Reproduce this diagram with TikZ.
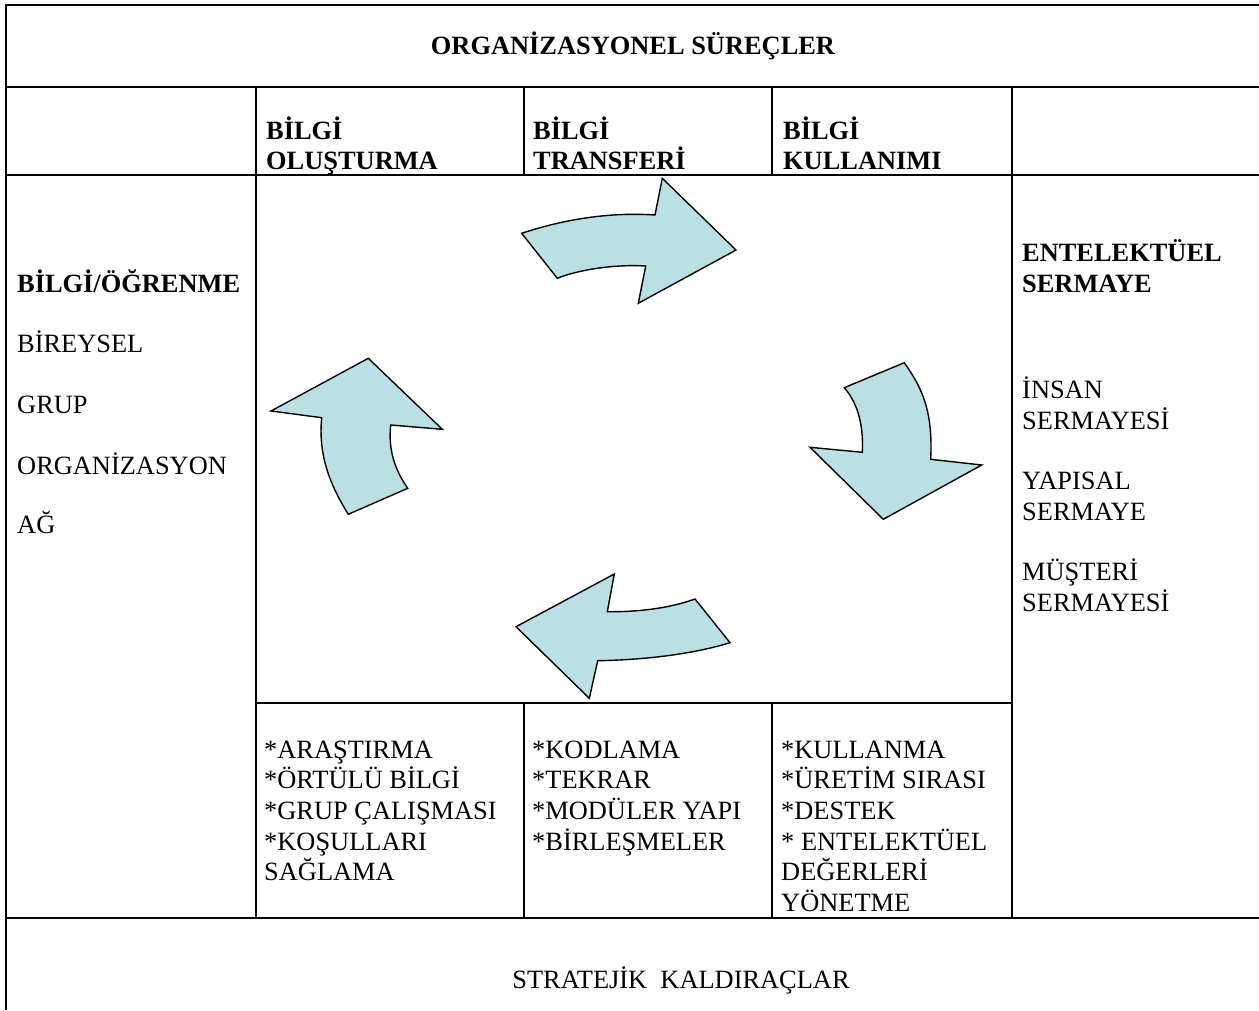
\documentclass[tikz,border=0pt]{standalone}
\usepackage{fontspec}
\setmainfont{Liberation Serif}
\definecolor{arrowfill}{HTML}{BBE0E3}
\tikzset{
  grid/.style={line width=2.6pt},
  thin grid/.style={line width=2pt},
  txt/.style={anchor=base west, inner sep=0pt, font=\fontsize{26.4}{30.6}\selectfont},
  btxt/.style={txt, font=\fontsize{26.4}{30.6}\selectfont\bfseries},
  ctxt/.style={txt, anchor=base},
  cbtxt/.style={btxt, anchor=base},
  bentarrow/.style={fill=arrowfill, draw=black, line width=1.4pt, line join=miter}
}
\begin{document}
\begin{tikzpicture}[x=1pt, y=-1pt]
\useasboundingbox (0,0) rectangle (1259,1010);

% table frame
\draw[grid] (6,1010) -- (6,5) -- (1259,5);
\draw[grid] (6,87) -- (1259,87);
\draw[grid] (6,175) -- (1259,175);
\draw[grid] (256,703) -- (1012,703);
\draw[grid] (6,918) -- (1259,918);
\draw[thin grid] (256,87) -- (256,918);
\draw[thin grid] (1012,87) -- (1012,918);
\draw[thin grid] (524,87) -- (524,175);
\draw[thin grid] (772,87) -- (772,175);
\draw[thin grid] (524,703) -- (524,918);
\draw[thin grid] (772,703) -- (772,918);

% title rows
\node[cbtxt] (title) at (633,54) {ORGANİZASYONEL SÜREÇLER};
\node[ctxt] (levers) at (681,988) {STRATEJİK~ KALDIRAÇLAR};

% process headers
\node[btxt] (h1a) at (266,139) {BİLGİ};
\node[btxt] (h1b) at (266,169.6) {OLUŞTURMA};
\node[btxt] (h2a) at (533,139) {BİLGİ};
\node[btxt] (h2b) at (533,169.6) {TRANSFERİ};
\node[btxt] (h3a) at (783,139) {BİLGİ};
\node[btxt] (h3b) at (783,169.6) {KULLANIMI};

% learning levels
\node[btxt] (l0) at (17,292) {BİLGİ/ÖĞRENME};
\node[txt] (l1) at (17,352) {BİREYSEL};
\node[txt] (l2) at (17,413) {GRUP};
\node[txt] (l3) at (17,474) {ORGANİZASYON};
\node[txt] (l4) at (17,533) {AĞ};

% intellectual capital
\node[btxt] (r0a) at (1022,261) {ENTELEKTÜEL};
\node[btxt] (r0b) at (1022,292) {SERMAYE};
\node[txt] (r1a) at (1022,398) {İNSAN};
\node[txt] (r1b) at (1022,429) {SERMAYESİ};
\node[txt] (r2a) at (1022,489.5) {YAPISAL};
\node[txt] (r2b) at (1022,520) {SERMAYE};
\node[txt] (r3a) at (1022,580.5) {MÜŞTERİ};
\node[txt] (r3b) at (1022,611) {SERMAYESİ};

% activities under each process
\node[txt] (a1) at (264,758.3) {*ARAŞTIRMA};
\node[txt] (a2) at (264,788.8) {*ÖRTÜLÜ BİLGİ};
\node[txt] (a3) at (264,819.4) {*GRUP ÇALIŞMASI};
\node[txt] (a4) at (264,850) {*KOŞULLARI};
\node[txt] (a5) at (264,880.5) {SAĞLAMA};

\node[txt] (b1) at (532,758.3) {*KODLAMA};
\node[txt] (b2) at (532,788.8) {*TEKRAR};
\node[txt] (b3) at (532,819.4) {*MODÜLER YAPI};
\node[txt] (b4) at (532,850) {*BİRLEŞMELER};

\node[txt] (c1) at (781,758.3) {*KULLANMA};
\node[txt] (c2) at (781,788.8) {*ÜRETİM SIRASI};
\node[txt] (c3) at (781,819.4) {*DESTEK};
\node[txt] (c4) at (781,850) {* ENTELEKTÜEL};
\node[txt] (c5) at (781,880.5) {DEĞERLERİ};
\node[txt] (c6) at (781,911) {YÖNETME};

% cycle of curved arrows
\draw[bentarrow] (521.7,233.3) .. controls (565,219) and (610,212) .. (655,215)
  -- (662.3,178.3) -- (736,250) -- (638.3,303.3) -- (645.7,266)
  .. controls (610,264) and (575,271) .. (557.3,278.3) -- cycle;

\draw[bentarrow] (904.3,362.7) .. controls (922,388) and (933,410) .. (930.7,459.3)
  -- (981.7,465) -- (883.3,519.3) -- (810,447.3) -- (862.3,452.3)
  .. controls (864,420) and (855,400) .. (844.3,387.7) -- cycle;

\draw[bentarrow] (730,642.7) .. controls (690,655) and (640,660) .. (597.7,660.7)
  -- (589.3,698.3) -- (516,626.7) -- (614.3,574) -- (607.3,611.7)
  .. controls (640,612) and (670,608) .. (695,599) -- cycle;

\draw[bentarrow] (348.3,514.3) .. controls (330,485) and (318,455) .. (321.7,417.7)
  -- (271,411) -- (368.3,358.3) -- (442.3,429.3) -- (390.7,425)
  .. controls (388,450) and (395,470) .. (407.7,488.3) -- cycle;
\end{tikzpicture}
\end{document}
